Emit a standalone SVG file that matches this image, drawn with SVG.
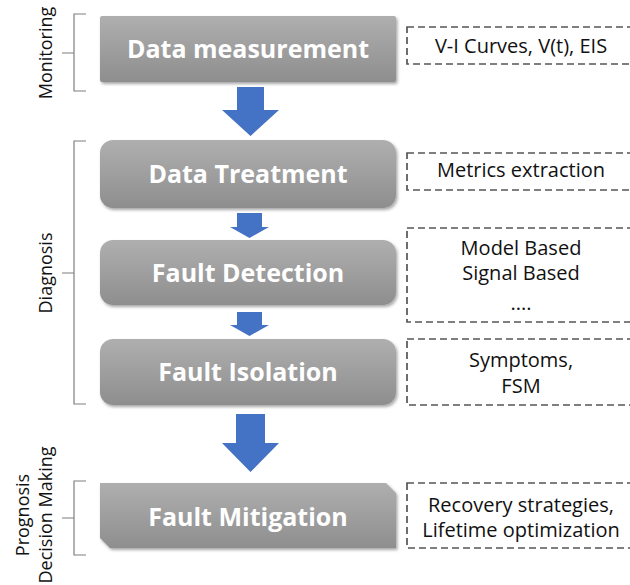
<svg xmlns="http://www.w3.org/2000/svg" width="630" height="585" viewBox="0 0 630 585">
<defs>
<linearGradient id="g" x1="0" y1="0" x2="0" y2="1">
<stop offset="0" stop-color="#afafaf"/>
<stop offset="1" stop-color="#8e8e8e"/>
</linearGradient>
<filter id="sh" x="-5%" y="-10%" width="115%" height="130%">
<feDropShadow dx="1.5" dy="2" stdDeviation="1.5" flood-color="#000" flood-opacity="0.35"/>
</filter>
<style>
.box{fill:url(#g);filter:url(#sh)}
.lbl{font-family:"Open Sans","Liberation Sans",sans-serif;font-weight:bold;font-size:25px;fill:#fff;text-anchor:middle}
.dash{fill:none;stroke:#555;stroke-width:1.7;stroke-dasharray:7 4}
.note{font-family:"Open Sans","Liberation Sans",sans-serif;font-size:20px;fill:#111;text-anchor:middle}
.arr{fill:#4472c4}
.br{fill:none;stroke:#7f7f7f;stroke-width:1.2}
.side{font-family:"Open Sans","Liberation Sans",sans-serif;font-size:18px;fill:#111;text-anchor:middle}
</style>
</defs>

<g id="connectors">
<polygon class="arr" points="237,87 264,87 264,110 279,110 250.5,136 222,110 237,110"/>
<polygon class="arr" points="237,213 262,213 262,227 269,227 249.5,238 230,227 237,227"/>
<polygon class="arr" points="237,312 262,312 262,325 269,325 249.5,336 230,325 237,325"/>
<polygon class="arr" points="236,414 265,414 265,443 279,443 250.5,472 222,443 236,443"/>
</g>

<g id="monitoring">
<path class="br" d="M86,14 H74 V91 H86 M74,53 H62"/>
<text class="side" transform="translate(52,53) rotate(-90)">Monitoring</text>
</g>
<g id="diagnosis">
<path class="br" d="M86,141 H74 V404 H86 M74,273 H62"/>
<text class="side" transform="translate(52,273) rotate(-90)">Diagnosis</text>
</g>
<g id="prognosis">
<path class="br" d="M86,481 H74 V555 H86 M74,518 H62"/>
<text class="side" transform="translate(29,515) rotate(-90)">Prognosis</text>
<text class="side" transform="translate(52,515) rotate(-90)">Decision Making</text>
</g>

<g id="data-measurement">
<rect class="box" x="100" y="16" width="296" height="66" rx="2"/>
<text class="lbl" x="248" y="58">Data measurement</text>
</g>
<g id="note-measurement">
<rect class="dash" x="407" y="27" width="230" height="37"/>
<text class="note" x="521" y="53">V-I Curves, V(t), EIS</text>
</g>

<g id="data-treatment">
<rect class="box" x="100" y="140" width="296" height="68" rx="13"/>
<text class="lbl" x="248" y="183">Data Treatment</text>
</g>
<g id="note-treatment">
<rect class="dash" x="407" y="153" width="230" height="37"/>
<text class="note" x="521" y="177">Metrics extraction</text>
</g>

<g id="fault-detection">
<rect class="box" x="100" y="240" width="296" height="65" rx="13"/>
<text class="lbl" x="248" y="282">Fault Detection</text>
</g>
<g id="note-detection">
<rect class="dash" x="407" y="228" width="230" height="94"/>
<text class="note" x="521" y="255">Model Based</text>
<text class="note" x="521" y="280">Signal Based</text>
<text class="note" x="521" y="310">....</text>
</g>

<g id="fault-isolation">
<rect class="box" x="100" y="339" width="296" height="66" rx="13"/>
<text class="lbl" x="248" y="381">Fault Isolation</text>
</g>
<g id="note-isolation">
<rect class="dash" x="407" y="339" width="230" height="66"/>
<text class="note" x="521" y="367">Symptoms,</text>
<text class="note" x="521" y="393">FSM</text>
</g>

<g id="fault-mitigation">
<path class="box" d="M100,483 H386 L396,493 V548 H110 L100,538 Z"/>
<text class="lbl" x="248" y="526">Fault Mitigation</text>
</g>
<g id="note-mitigation">
<rect class="dash" x="407" y="483" width="230" height="65"/>
<text class="note" x="521" y="512">Recovery strategies,</text>
<text class="note" x="521" y="537">Lifetime optimization</text>
</g>
</svg>
